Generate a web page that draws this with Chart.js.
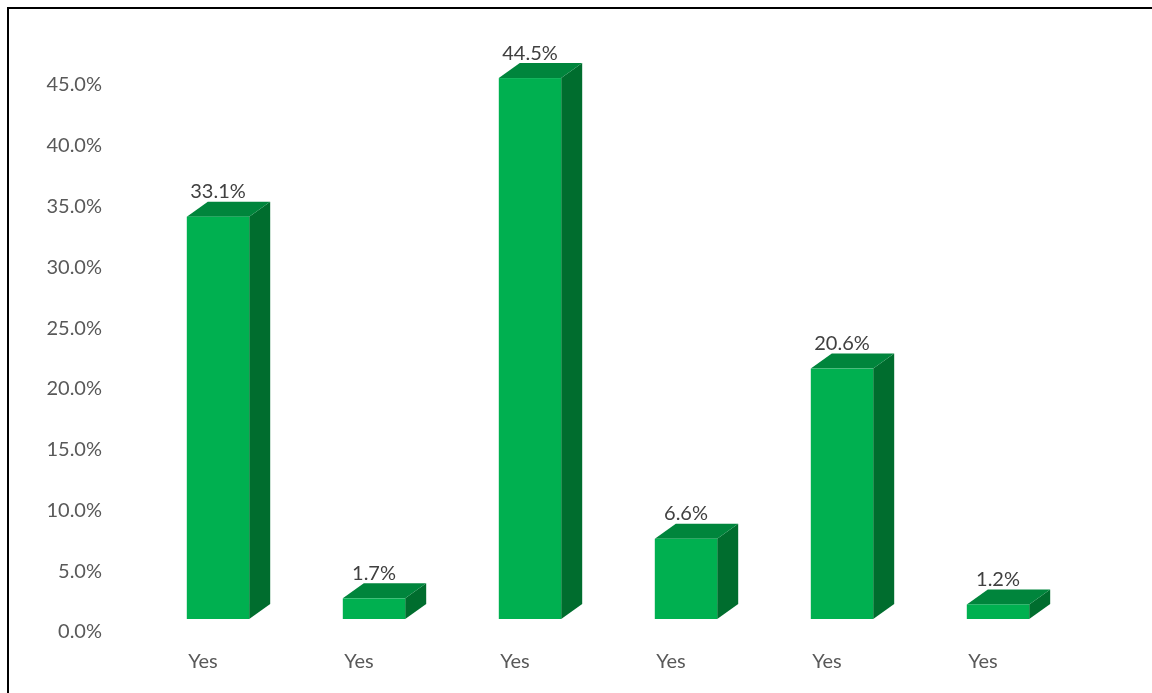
<!DOCTYPE html>
<html><head><meta charset="utf-8">
<script src="https://cdn.jsdelivr.net/npm/chart.js@4/dist/chart.umd.min.js"></script>
<style>html,body{margin:0;padding:0;background:#fff;overflow:hidden}#wrap{width:1152px;height:693px;position:relative}</style>
</head><body><div id="wrap"><canvas id="c" width="1152" height="693"></canvas></div>
<script>
const categories = ["Yes","Yes","Yes","Yes","Yes","Yes"];
const values = [33.1, 1.7, 44.5, 6.6, 20.6, 1.2];
const yTicks = [0,5,10,15,20,25,30,35,40,45];

const FRONT = "#00B050", TOP = "#00853C", SIDE = "#006D2E";
const DX = 21, DY = -15;
const FONT = "Lato, 'Open Sans', sans-serif";

const bars3d = {
  id: "bars3d",
  beforeDraw(chart){
    const ctx = chart.ctx;
    ctx.save();
    ctx.fillStyle = "#fff"; ctx.fillRect(0,0,chart.width,chart.height);
    ctx.strokeStyle = "#000"; ctx.lineWidth = 2;
    ctx.strokeRect(8,8,1300,900);
    ctx.restore();
  },
  afterDatasetsDraw(chart){
    const ctx = chart.ctx;
    const meta = chart.getDatasetMeta(0);
    ctx.save();
    meta.data.forEach((el,i)=>{
      const w = el.width, l = el.x - w/2, r = el.x + w/2, t = el.y, b = el.base;
      ctx.fillStyle = SIDE;
      ctx.beginPath(); ctx.moveTo(r,t); ctx.lineTo(r+DX,t+DY); ctx.lineTo(r+DX,b+DY); ctx.lineTo(r,b); ctx.closePath(); ctx.fill();
      ctx.fillStyle = TOP;
      ctx.beginPath(); ctx.moveTo(l,t); ctx.lineTo(r,t); ctx.lineTo(r+DX,t+DY); ctx.lineTo(l+DX,t+DY); ctx.closePath(); ctx.fill();
      ctx.fillStyle = FRONT;
      ctx.fillRect(l,t,w,b-t);
      ctx.fillStyle = "#404040";
      ctx.font = "20px " + FONT;
      ctx.textAlign = "center"; ctx.textBaseline = "middle";
      ctx.fillText(values[i].toFixed(1)+"%", el.x, t+DY-10);
    });
    ctx.restore();
  }
};

new Chart(document.getElementById("c"), {
  type: "bar",
  data: { labels: categories, datasets: [{ data: values, backgroundColor: "rgba(0,0,0,0)", categoryPercentage: 1, barPercentage: 0.4 }] },
  options: {
    responsive: false, animation: false, events: [],
    layout: { padding: { top: 72, left: 8, right: 76, bottom: 0 } },
    plugins: { legend: { display: false }, tooltip: { enabled: false } },
    scales: {
      x: {
        grid: { display: false, drawTicks: false }, border: { display: false },
        ticks: { color: "#595959", font: { family: FONT, size: 20 }, padding: 31, labelOffset: -15 },
        afterFit(s){ s.height = 74; }
      },
      y: {
        min: 0, max: 45,
        afterBuildTicks(s){ s.ticks = yTicks.map(v=>({value:v})); },
        grid: { display: false, drawTicks: false }, border: { display: false },
        ticks: { color: "#595959", font: { family: FONT, size: 20 }, padding: 38, labelOffset: 13,
          callback: v => Number(v).toFixed(1) + "%" },
        afterFit(s){ s.width = 132; }
      }
    }
  },
  plugins: [bars3d]
});
</script></body></html>
